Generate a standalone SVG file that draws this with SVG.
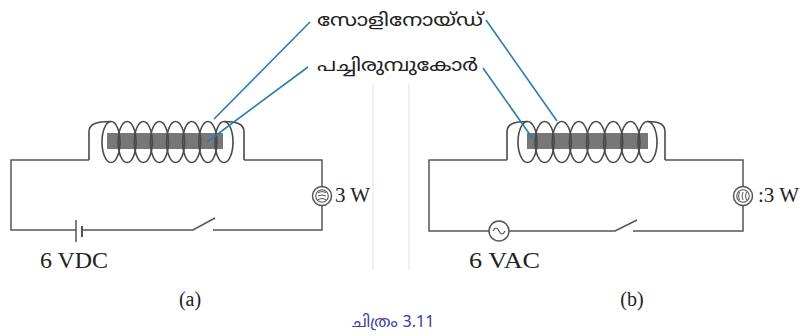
<svg xmlns="http://www.w3.org/2000/svg" width="806" height="336" viewBox="0 0 806 336">
<style>
.w{fill:none;stroke:#555;stroke-width:1.5}
.coil{fill:none;stroke:#4a4a4a;stroke-width:1.6}
.core{fill:#777}
.lead{fill:none;stroke:#2b7bb5;stroke-width:1.6}
.t{font-family:"Liberation Serif","Times New Roman",serif;fill:#222}
.ml{font-family:"Noto Sans Malayalam","Noto Sans",sans-serif;fill:#222}
.cap{font-family:"Noto Sans Malayalam","Noto Sans",sans-serif;fill:#3d3d9e}
.fold{stroke:#e2e2e2;stroke-width:1}
</style>
<rect width="806" height="336" fill="#fff"/>
<line class="fold" x1="373" y1="84" x2="373" y2="270"/>
<line class="fold" x1="409" y1="84" x2="409" y2="270"/>

<g id="circuit-a">
  <g id="solenoid-a">
    <rect class="core" x="107" y="133" width="116" height="16"/>
    <path class="coil" d="M89,160 V132 C89,124 96,121.5 111,121.5"/>
    <path class="coil" d="M224,121.5 C237,121.5 244,124 244,132 V160"/>
    <ellipse class="coil" cx="111" cy="142" rx="9" ry="20.5"/>
    <ellipse class="coil" cx="127.1" cy="142" rx="9" ry="20.5"/>
    <ellipse class="coil" cx="143.3" cy="142" rx="9" ry="20.5"/>
    <ellipse class="coil" cx="159.4" cy="142" rx="9" ry="20.5"/>
    <ellipse class="coil" cx="175.6" cy="142" rx="9" ry="20.5"/>
    <ellipse class="coil" cx="191.7" cy="142" rx="9" ry="20.5"/>
    <ellipse class="coil" cx="207.9" cy="142" rx="9" ry="20.5"/>
    <ellipse class="coil" cx="224" cy="142" rx="9" ry="20.5"/>
  </g>
  <g id="wires-a">
    <path class="w" d="M89,160 H11 V230 H76"/>
    <path class="w" d="M82,230 H193 L215,218"/>
    <path class="w" d="M213,230 H322 V205.5"/>
    <path class="w" d="M322,186.5 V160 H244"/>
  </g>
  <g id="battery-a">
    <line class="w" x1="76" y1="220" x2="76" y2="242"/>
    <line class="w" x1="82" y1="226" x2="82" y2="237" style="stroke-width:2"/>
  </g>
  <g id="lamp-a">
    <circle class="w" cx="322" cy="196" r="9.5"/>
    <circle class="w" cx="322" cy="196" r="6.3" style="stroke-width:1.1"/>
    <path class="w" style="stroke-width:1" d="M318,192.5 Q322,190.5 326,192.5 M318,196 Q322,194 326,196 M318,199.5 Q322,197.5 326,199.5"/>
  </g>
  <text class="t" x="335" y="202" font-size="21">3 W</text>
  <text class="t" x="40" y="268" font-size="24" textLength="68" lengthAdjust="spacingAndGlyphs">6 VDC</text>
  <text class="t" x="190" y="306" font-size="20" text-anchor="middle">(a)</text>
</g>

<g id="circuit-b">
  <g id="solenoid-b">
    <rect class="core" x="527" y="133" width="121" height="16"/>
    <path class="coil" d="M507,160 V132 C507,124 514,121.5 527.5,121.5"/>
    <path class="coil" d="M647.5,121.5 C659,121.5 665,124 665,132 V160"/>
    <ellipse class="coil" cx="527.5" cy="142" rx="9.5" ry="20.5"/>
    <ellipse class="coil" cx="544.6" cy="142" rx="9.5" ry="20.5"/>
    <ellipse class="coil" cx="561.8" cy="142" rx="9.5" ry="20.5"/>
    <ellipse class="coil" cx="578.9" cy="142" rx="9.5" ry="20.5"/>
    <ellipse class="coil" cx="596.1" cy="142" rx="9.5" ry="20.5"/>
    <ellipse class="coil" cx="613.2" cy="142" rx="9.5" ry="20.5"/>
    <ellipse class="coil" cx="630.4" cy="142" rx="9.5" ry="20.5"/>
    <ellipse class="coil" cx="647.5" cy="142" rx="9.5" ry="20.5"/>
  </g>
  <g id="wires-b">
    <path class="w" d="M507,160 H429 V231 H489"/>
    <path class="w" d="M509,231 H615 L637,220"/>
    <path class="w" d="M633,231 H743 V205.5"/>
    <path class="w" d="M743,186.5 V160 H665"/>
  </g>
  <g id="ac-source-b">
    <circle class="w" cx="499" cy="231" r="10"/>
    <path class="w" style="stroke-width:1.2" d="M493,231 C495,227 497,227 499,231 C501,235 503,235 505,231"/>
  </g>
  <g id="lamp-b">
    <circle class="w" cx="743" cy="196" r="9.5"/>
    <circle class="w" cx="743" cy="196" r="6.3" style="stroke-width:1.1"/>
    <path class="w" style="stroke-width:1" d="M739.5,192 Q737.5,196 739.5,200 M743,192 Q741,196 743,200 M746.5,192 Q744.5,196 746.5,200"/>
  </g>
  <text class="t" x="758" y="202" font-size="21">:3 W</text>
  <text class="t" x="469" y="268" font-size="24" textLength="71" lengthAdjust="spacingAndGlyphs">6 VAC</text>
  <text class="t" x="632" y="306" font-size="20" text-anchor="middle">(b)</text>
</g>

<g id="labels">
  <text class="ml" x="317" y="26" font-size="18" textLength="166" lengthAdjust="spacingAndGlyphs">സോളിനോയ്ഡ്</text>
  <text class="ml" x="317" y="71" font-size="18" textLength="161" lengthAdjust="spacingAndGlyphs">പച്ചിരുമ്പുകോർ</text>
  <text class="cap" x="393" y="327" font-size="16" text-anchor="middle">ചിത്രം 3.11</text>
</g>

<g id="connectors">
  <line class="lead" x1="310" y1="22" x2="214" y2="119"/>
  <line class="lead" x1="308" y1="67" x2="207" y2="142"/>
  <line class="lead" x1="486" y1="20" x2="557" y2="121"/>
  <line class="lead" x1="483" y1="68" x2="533" y2="139"/>
</g>
</svg>
